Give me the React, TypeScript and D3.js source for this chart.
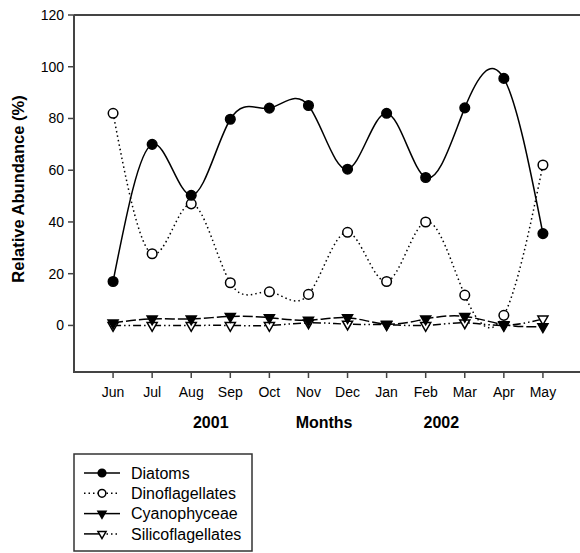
import React, { useEffect, useRef } from "react";
import * as d3 from "d3";

const months = ["Jun", "Jul", "Aug", "Sep", "Oct", "Nov", "Dec", "Jan", "Feb", "Mar", "Apr", "May"];
const diatoms = [17, 70, 50.3, 79.7, 84, 85, 60.4, 82, 57.2, 84.1, 95.5, 35.5];
const dinoflagellates = [82, 27.7, 47, 16.5, 13, 12, 36, 17, 40, 11.7, 3.9, 62];
const cyanophyceae = [1, 2.5, 2.5, 3.5, 3, 2, 3, 0.5, 2.5, 3.5, 0.3, -0.5];
const silicoflagellates = [0, 0, 0, 0, 0, 1, 0.5, 0.3, 0, 1, 0, 2.5];
const yTicks = [0, 20, 40, 60, 80, 100, 120];
const yearLabels = [
  { text: "2001", at: 2.5 },
  { text: "Months", at: 5.4 },
  { text: "2002", at: 8.4 },
];

const series = [
  { name: "Diatoms", values: diatoms, dash: null, marker: "circle", fill: "black", legendLeft: null, legendRight: null },
  { name: "Dinoflagellates", values: dinoflagellates, dash: "1.5,3", marker: "circle", fill: "white", legendLeft: "1.5,3", legendRight: "1.5,3" },
  { name: "Cyanophyceae", values: cyanophyceae, dash: "10,3", marker: "tri", fill: "black", legendLeft: null, legendRight: null },
  { name: "Silicoflagellates", values: silicoflagellates, dash: "8,3,1.5,3,1.5,3", marker: "tri", fill: "white", legendLeft: null, legendRight: "1.5,3" },
];

const FONT = "'Liberation Sans', Arial, sans-serif";

export default function App() {
  const ref = useRef<SVGSVGElement>(null);

  useEffect(() => {
    const svg = d3.select(ref.current);
    svg.selectAll("*").remove();

    const x = d3.scaleLinear().domain([-1, 12]).range([74, 582]);
    const y = d3.scaleLinear().domain([-18, 120]).range([372, 15]);
    const axisColor = "#444";

    // frame: left axis, bottom axis, top line
    svg.append("line").attr("x1", 74).attr("x2", 74).attr("y1", y(120)).attr("y2", y(-18))
      .attr("stroke", axisColor).attr("stroke-width", 2);
    svg.append("line").attr("x1", 73).attr("x2", 580).attr("y1", y(-18)).attr("y2", y(-18))
      .attr("stroke", axisColor).attr("stroke-width", 2);
    svg.append("line").attr("x1", 74).attr("x2", 580).attr("y1", y(120)).attr("y2", y(120))
      .attr("stroke", axisColor).attr("stroke-width", 2);

    // y ticks
    const yg = svg.append("g");
    yTicks.forEach(t => {
      yg.append("line").attr("x1", 68).attr("x2", 74).attr("y1", y(t)).attr("y2", y(t))
        .attr("stroke", axisColor).attr("stroke-width", 1.5);
      yg.append("text").attr("x", 64).attr("y", y(t)).attr("dy", "0.35em")
        .attr("text-anchor", "end").attr("font-family", FONT).attr("font-size", 14)
        .text(t);
    });

    // x ticks
    const xg = svg.append("g");
    months.forEach((m, i) => {
      xg.append("line").attr("x1", x(i)).attr("x2", x(i)).attr("y1", 372).attr("y2", 378)
        .attr("stroke", axisColor).attr("stroke-width", 1.5);
      xg.append("text").attr("x", x(i)).attr("y", 392).attr("dy", "0.35em")
        .attr("text-anchor", "middle").attr("font-family", FONT).attr("font-size", 14)
        .text(m);
    });
    yearLabels.forEach(l => {
      svg.append("text").attr("x", x(l.at)).attr("y", 422).attr("dy", "0.35em")
        .attr("text-anchor", "middle").attr("font-family", FONT).attr("font-size", 16)
        .attr("font-weight", "bold").text(l.text);
    });

    svg.append("text")
      .attr("transform", "translate(18,189) rotate(-90)")
      .attr("text-anchor", "middle").attr("dy", "0.35em")
      .attr("font-family", FONT).attr("font-size", 16.5).attr("font-weight", "bold")
      .text("Relative Abundance (%)");

    const line = d3.line<number>()
      .x((d, i) => x(i))
      .y(d => y(d))
      .curve(d3.curveNatural);

    const drawMarker = (g: any, s: any, cx: number, cy: number, scale: number) => {
      if (s.marker === "circle") {
        g.append("circle").attr("cx", cx).attr("cy", cy).attr("r", 4.8 * scale)
          .attr("fill", s.fill).attr("stroke", "black").attr("stroke-width", 1.5);
      } else {
        const tri = d3.symbol().type(d3.symbolTriangle).size(44 * scale * scale);
        g.append("path").attr("d", tri).attr("transform", `translate(${cx},${cy}) rotate(180)`)
          .attr("fill", s.fill).attr("stroke", "black").attr("stroke-width", 1.5);
      }
    };

    // draw lower series first so diatoms sit on top
    [...series].reverse().forEach(s => {
      const g = svg.append("g");
      g.append("path").attr("d", line(s.values))
        .attr("fill", "none").attr("stroke", "black").attr("stroke-width", 1.5)
        .attr("stroke-dasharray", s.dash);
      s.values.forEach((v, i) => drawMarker(g, s, x(i), y(v), 1));
    });

    // legend
    const lg = svg.append("g");
    lg.append("rect").attr("x", 74).attr("y", 454).attr("width", 178).attr("height", 97)
      .attr("fill", "white").attr("stroke", "#333").attr("stroke-width", 1.5);
    series.forEach((s, i) => {
      const ly = 473 + i * 20.3;
      lg.append("line").attr("x1", 84).attr("x2", 102).attr("y1", ly).attr("y2", ly)
        .attr("stroke", "black").attr("stroke-width", 1.5)
        .attr("stroke-dasharray", s.legendLeft);
      lg.append("line").attr("x1", 102).attr("x2", 120).attr("y1", ly).attr("y2", ly)
        .attr("stroke", "black").attr("stroke-width", 1.5)
        .attr("stroke-dasharray", s.legendRight);
      drawMarker(lg, s, 102, ly, 0.8);
      lg.append("text").attr("x", 131).attr("y", ly).attr("dy", "0.35em")
        .attr("font-family", FONT).attr("font-size", 16).text(s.name);
    });
  }, []);

  return (
    <svg ref={ref} width={580} height={553}
      style={{ display: "block", position: "absolute", left: 0, top: 0 }} />
  );
}
